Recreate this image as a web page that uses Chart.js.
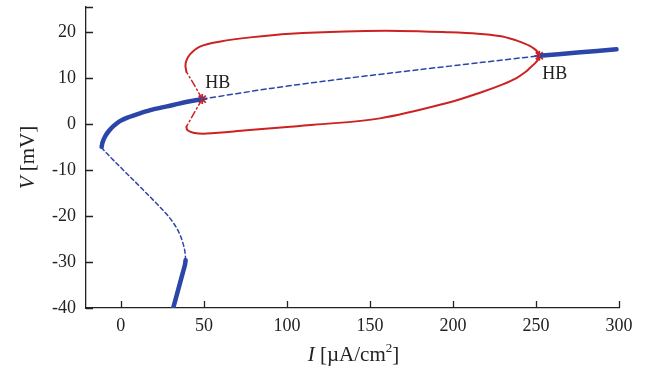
<!DOCTYPE html>
<html>
<head>
<meta charset="utf-8">
<script src="https://cdn.jsdelivr.net/npm/chart.js@4"></script>
<style>
html,body{margin:0;padding:0;background:#fff;}
#wrap{width:646px;height:371px;position:relative;}
</style>
</head>
<body>
<div id="wrap"><canvas id="c" width="646" height="371"></canvas></div>
<script>
// ---- data (I in µA/cm², V in mV) ----
const xTicks = [0, 50, 100, 150, 200, 250, 300];
const yTicks = [-40, -30, -20, -10, 0, 10, 20];

// stable equilibria, lower branch
const stableLowI = [31.5, 33.8, 35.6, 37.4, 38.6, 39.0];
const stableLowV = [-40, -37.0, -34.6, -32.2, -30.6, -29.6];
// unstable equilibria, middle branch
const unstableMidI = [39.0, 38.6, 37.3, 35.0, 31.8, 27.5, 21.5, 11.4, 1.4, -5.5, -8.5, -10.5, -11.6];
const unstableMidV = [-29.6, -27.8, -25.8, -23.6, -21.6, -19.6, -17.3, -13.6, -10.0, -7.5, -6.4, -5.6, -5.0];
// stable equilibria, upper branch up to first HB
const stableUpI = [-11.6, -11.0, -9.6, -7.6, -4.5, -0.6, 5.0, 11.4, 20.0, 31.5, 40.0, 49.0];
const stableUpV = [-5.0, -4.0, -2.8, -1.7, -0.5, 0.6, 1.5, 2.3, 3.2, 4.1, 4.8, 5.4];
// unstable equilibria between the two HB points
const unstableHbI = [49.0, 90.0, 136.0, 180.0, 216.0, 252.0];
const unstableHbV = [5.4, 7.7, 9.9, 11.8, 13.3, 14.8];
// stable equilibria after second HB
const stableRightI = [252.0, 275.0, 298.5];
const stableRightV = [14.8, 15.5, 16.2];
// periodic orbits: max V (stable part)
const orbitMaxI = [39.5, 38.9, 39.3, 41.6, 47.6, 60.0, 78.0, 102.0, 135.0, 168.0, 198.0, 215.0, 228.0, 237.0, 242.0, 246.0, 249.0, 250.8, 252.0];
const orbitMaxV = [11.3, 12.6, 13.6, 15.1, 16.8, 17.9, 18.8, 19.6, 20.1, 20.2, 19.9, 19.6, 19.1, 18.3, 17.6, 17.0, 16.3, 15.7, 14.8];
// periodic orbits: min V (stable part)
const orbitMinI = [39.5, 40.0, 43.6, 51.6, 75.7, 102.0, 116.0, 156.0, 197.0, 218.0, 230.0, 238.0, 243.0, 246.5, 249.5, 251.2, 252.0];
const orbitMinV = [-0.6, -1.3, -1.9, -2.1, -1.4, -0.6, -0.2, 1.2, 4.6, 7.0, 8.6, 9.9, 11.1, 12.2, 13.2, 14.0, 14.8];
// unstable periodic orbits near first HB (max and min)
const orbitUnMaxI = [49.0, 44.0, 39.5];
const orbitUnMaxV = [5.4, 8.6, 11.3];
const orbitUnMinI = [49.0, 44.0, 39.5];
const orbitUnMinV = [5.4, 2.3, -0.6];
// Hopf bifurcation points
const hbI = [49.0, 252.0];
const hbV = [5.4, 14.8];
const hbLabels = ['HB', 'HB'];

const BLUE = '#2b45a8';
const RED = '#cc2222';
const FONT = '"Liberation Serif", "DejaVu Serif", serif';

const zip = (a, b) => a.map((x, i) => ({x: x, y: b[i]}));

function lineDs(I, V, color, width, dash, tension) {
  return {
    data: zip(I, V), showLine: true, borderColor: color, backgroundColor: color,
    borderWidth: width, borderDash: dash || [], pointRadius: 0, tension: tension,
    borderCapStyle: 'round', fill: false
  };
}

const datasets = [
  lineDs(orbitMaxI, orbitMaxV, RED, 2, [], 0.35),
  lineDs(orbitMinI, orbitMinV, RED, 2, [], 0.35),
  lineDs(orbitUnMaxI, orbitUnMaxV, RED, 1.5, [7, 3, 1.5, 3], 0),
  lineDs(orbitUnMinI, orbitUnMinV, RED, 1.5, [7, 3, 1.5, 3], 0),
  lineDs(unstableMidI, unstableMidV, BLUE, 1.5, [4, 3], 0.35),
  lineDs(unstableHbI, unstableHbV, BLUE, 1.5, [5, 3.5], 0.3),
  lineDs(stableLowI, stableLowV, BLUE, 4.5, [], 0.3),
  lineDs(stableUpI, stableUpV, BLUE, 4.5, [], 0.35),
  lineDs(stableRightI, stableRightV, BLUE, 4.5, [], 0.3),
  {
    data: zip(hbI, hbV), showLine: false, pointStyle: 'star', pointRadius: 5,
    borderColor: RED, backgroundColor: RED, borderWidth: 1.8
  }
];

const decor = {
  id: 'decor',
  afterDraw(chart) {
    const ctx = chart.ctx;
    const xs = chart.scales.x, ys = chart.scales.y;
    const ca = chart.chartArea;
    ctx.save();
    // inward tick marks
    ctx.strokeStyle = '#222';
    ctx.lineWidth = 1.3;
    ctx.beginPath();
    xTicks.forEach(t => {
      const px = Math.round(xs.getPixelForValue(t)) + 0.5;
      ctx.moveTo(px, ca.bottom); ctx.lineTo(px, ca.bottom - 7);
    });
    yTicks.forEach(t => {
      const py = Math.round(ys.getPixelForValue(t)) + 0.5;
      ctx.moveTo(ca.left, py); ctx.lineTo(ca.left + 7, py);
    });
    // top end cap of y axis
    ctx.moveTo(ca.left, ca.top + 0.5); ctx.lineTo(ca.left + 7, ca.top + 0.5);
    ctx.stroke();

    // HB labels
    ctx.fillStyle = '#222';
    ctx.font = '18px ' + FONT;
    ctx.textBaseline = 'alphabetic';
    ctx.textAlign = 'left';
    const p1x = xs.getPixelForValue(hbI[0]), p1y = ys.getPixelForValue(hbV[0]);
    ctx.fillText(hbLabels[0], p1x + 3, p1y - 11);
    const p2x = xs.getPixelForValue(hbI[1]), p2y = ys.getPixelForValue(hbV[1]);
    ctx.fillText(hbLabels[1], p2x + 3, p2y + 23);

    // x axis title: I [µA/cm²]
    const parts = [
      {t: 'I', f: 'italic 21px ' + FONT, dy: 0},
      {t: ' [\u00b5A/cm', f: '21px ' + FONT, dy: 0},
      {t: '2', f: '13px ' + FONT, dy: -9},
      {t: ']', f: '21px ' + FONT, dy: 0}
    ];
    let total = 0;
    parts.forEach(p => { ctx.font = p.f; p.w = ctx.measureText(p.t).width; total += p.w; });
    let x0 = (ca.left + ca.right) / 2 - total / 2 + 1;
    const base = 361;
    parts.forEach(p => { ctx.font = p.f; ctx.fillText(p.t, x0, base + p.dy); x0 += p.w; });

    // y axis title: V [mV]
    ctx.translate(34, (ca.top + ca.bottom) / 2);
    ctx.rotate(-Math.PI / 2);
    const yparts = [
      {t: 'V', f: 'italic 21px ' + FONT},
      {t: ' [mV]', f: '21px ' + FONT}
    ];
    let tw = 0;
    yparts.forEach(p => { ctx.font = p.f; p.w = ctx.measureText(p.t).width; tw += p.w; });
    let yx = -tw / 2;
    yparts.forEach(p => { ctx.font = p.f; ctx.fillText(p.t, yx, 0); yx += p.w; });
    ctx.restore();
  }
};

new Chart(document.getElementById('c'), {
  type: 'scatter',
  data: {datasets: datasets},
  options: {
    responsive: false,
    animation: false,
    events: [],
    layout: {padding: {left: 0, top: 7, right: 27, bottom: 0}},
    plugins: {legend: {display: false}, tooltip: {enabled: false}},
    scales: {
      x: {
        type: 'linear', min: -21, max: 300,
        afterBuildTicks: s => { s.ticks = xTicks.map(v => ({value: v})); },
        afterFit: s => { s.height = 63; },
        grid: {display: true, drawOnChartArea: false, drawTicks: false},
        border: {display: true, color: '#222', width: 1.3},
        ticks: {padding: 7, color: '#222', font: {family: FONT, size: 18}, maxRotation: 0}
      },
      y: {
        type: 'linear', min: -40, max: 25.4,
        afterBuildTicks: s => { s.ticks = yTicks.map(v => ({value: v})); },
        afterFit: s => { s.width = 86; s.paddingTop = 0; s.paddingBottom = 0; },
        grid: {display: true, drawOnChartArea: false, drawTicks: false},
        border: {display: true, color: '#222', width: 1.3},
        ticks: {padding: 10, color: '#222', font: {family: FONT, size: 18, lineHeight: 0.2}}
      }
    }
  },
  plugins: [decor]
});
</script>
</body>
</html>
